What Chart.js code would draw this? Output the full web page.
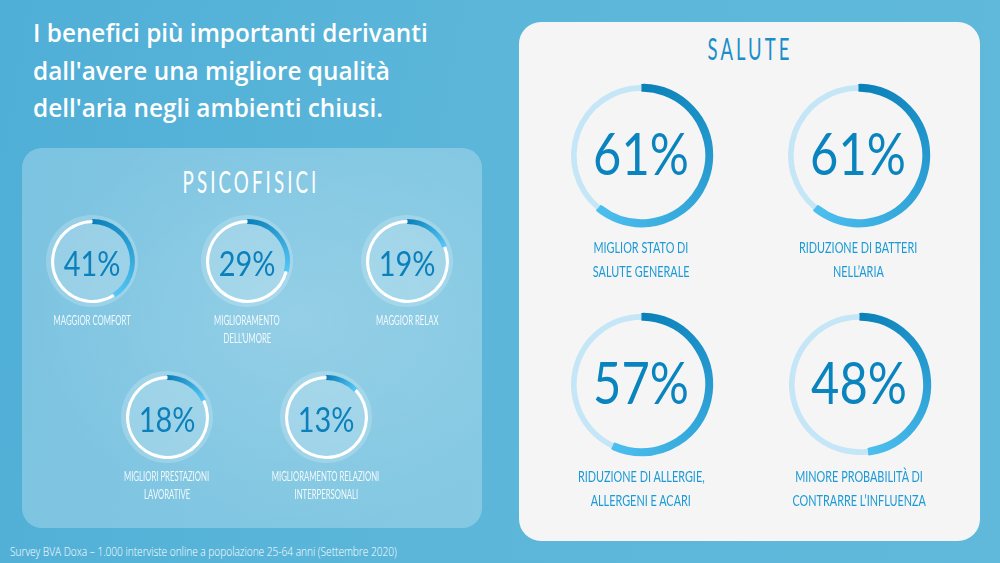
<!DOCTYPE html>
<html><head><meta charset="utf-8">
<script src="https://cdn.jsdelivr.net/npm/chart.js@4.4.1/dist/chart.umd.min.js"></script>
<style>
html,body{margin:0;padding:0;}
body{width:1000px;height:563px;overflow:hidden;position:relative;
  background:linear-gradient(100deg,#50afd7 0%,#5bb6d9 45%,#60b9db 100%);
  font-family:"Lato","Open Sans",sans-serif;}
.abs{position:absolute;}
#title{left:33px;top:14px;color:#fff;font-family:"Open Sans",sans-serif;font-weight:600;font-size:25.5px;line-height:37.5px;white-space:nowrap;transform-origin:left top;}
#title span{display:inline-block;}
#leftPanel{left:22px;top:148px;width:460px;height:380px;border-radius:20px;
  background:radial-gradient(ellipse at 60% 45%,rgba(255,255,255,0.36),rgba(255,255,255,0.25) 70%);}
#rightPanel{left:519px;top:22px;width:461px;height:519px;border-radius:22px;background:#f5f5f5;}
.hwrap{width:0;height:0;}
.heading{position:absolute;left:0;top:0;white-space:nowrap;font-weight:400;font-size:30px;line-height:30px;letter-spacing:5px;}
.halo{border-radius:50%;background:rgba(255,255,255,0.2);}
.nwrap{width:0;height:0;}
.num{position:absolute;left:0;top:0;white-space:nowrap;line-height:1;font-weight:400;}
.lbl{white-space:nowrap;text-align:center;width:260px;}
.lbl span{display:inline-block;transform-origin:center;}
#footer{left:10px;top:544px;color:#fff;font-family:"Open Sans",sans-serif;font-weight:300;font-size:12px;line-height:16px;white-space:nowrap;transform-origin:left top;}
</style></head>
<body>
<div id="leftPanel" class="abs"></div>
<div id="rightPanel" class="abs"></div>
<div id="title" class="abs"><div><span id="t1">I benefici più importanti derivanti</span></div><div><span>dall'avere una migliore qualità</span></div><div><span>dell'aria negli ambienti chiusi.</span></div></div>
<div id="footer" class="abs">Survey BVA Doxa – 1.000 interviste online a popolazione 25-64 anni (Settembre 2020)</div>
<script>
// ---- data ----
const sectionTitles = ["PSICOFISICI", "SALUTE"];
const psicoLabels = [["MAGGIOR COMFORT"], ["MIGLIORAMENTO", "DELL’UMORE"], ["MAGGIOR RELAX"], ["MIGLIORI PRESTAZIONI", "LAVORATIVE"], ["MIGLIORAMENTO RELAZIONI", "INTERPERSONALI"]];
const psicoValues = [41, 29, 19, 18, 13];
const saluteLabels = [["MIGLIOR STATO DI", "SALUTE GENERALE"], ["RIDUZIONE DI BATTERI", "NELL’ARIA"], ["RIDUZIONE DI ALLERGIE,", "ALLERGENI E ACARI"], ["MINORE PROBABILITÀ DI", "CONTRARRE L’INFLUENZA"]];
const saluteValues = [61, 61, 57, 48];

// ---- layout (not data) ----
const psicoCenters = [[92,261],[247,261],[407,261],[167,417],[326,417]];
const saluteCenters = [[641,155],[858,155],[641,384],[859,384]];
const smallStyle = {radius:41.5, cutout:'92.5%', extra:1.8, from:'#0a7fb8', to:'#56c7f5', track:'#ffffff',
  numSize:35, numW:57, numColor:'#0b80bb', numDy:1, lblSize:12.5, lblColor:'rgba(255,255,255,0.9)', lblDy:60, lblGap:18.5, refW:77, halo:46, borderRadius:0};
const bigStyle = {radius:70.5, cutout:'92%', extra:2.4, from:'#0a80b9', to:'#4dbfef', track:'#c4e6f6',
  numSize:58, numW:96, numColor:'#0a84bf', numDy:-2, lblSize:16, lblColor:'#1b9ad5', lblDy:92, lblGap:24.5, refW:127, halo:0, borderRadius:2};

function arcGrad(c, value, from, to) {
  const chart = c.chart, ca = chart.chartArea;
  if (!ca || !chart.ctx.createConicGradient) return from;
  const g = chart.ctx.createConicGradient(-Math.PI/2, (ca.left+ca.right)/2, (ca.top+ca.bottom)/2);
  g.addColorStop(0, from); g.addColorStop(value/100, to); g.addColorStop(1, to);
  return g;
}

function el(cls, parent, tag) { const d = document.createElement(tag||'div'); d.className = cls; (parent||document.body).appendChild(d); return d; }

const labelSpans = {small:[], big:[]};
const refSpans = {};

function makeRing(cx, cy, value, lines, s, key) {
  if (s.halo) {
    const h = el('abs halo');
    h.style.left = (cx - s.halo)+'px'; h.style.top = (cy - s.halo)+'px';
    h.style.width = h.style.height = (2*s.halo)+'px';
  }
  const size = Math.ceil(s.radius*2 + 12);
  const wrap = el('abs');
  wrap.style.left = (cx - size/2)+'px'; wrap.style.top = (cy - size/2)+'px';
  wrap.style.width = wrap.style.height = size+'px';
  const canvas = document.createElement('canvas');
  canvas.width = size; canvas.height = size;
  wrap.appendChild(canvas);
  new Chart(canvas, {
    type:'doughnut',
    data:{labels:['valore','resto'], datasets:[{
      data:[value, 100-value],
      backgroundColor: c => c.dataIndex === 0 ? arcGrad(c, value, s.from, s.to) : s.track,
      borderColor: c => c.dataIndex === 0 ? arcGrad(c, value, s.from, s.to) : s.track,
      borderWidth: [s.extra, 0],
      borderRadius: [s.borderRadius, 0]
    }]},
    options:{responsive:false, animation:false, events:[], radius:s.radius, cutout:s.cutout,
      layout:{padding:0}, plugins:{legend:{display:false}, tooltip:{enabled:false}}}
  });
  const nw = el('abs nwrap');
  nw.style.left = cx+'px'; nw.style.top = (cy + s.numDy)+'px';
  const n = el('num', nw);
  n.textContent = value + '%';
  n.style.fontSize = s.numSize+'px'; n.style.color = s.numColor;
  const k = s.numW / n.offsetWidth;
  n.style.transform = 'translate(-50%,-50%) scaleX(' + k + ')';
  const l = el('abs lbl');
  l.style.left = (cx - 130)+'px'; l.style.top = (cy + s.lblDy - s.lblGap/2)+'px';
  l.style.fontSize = s.lblSize+'px'; l.style.lineHeight = s.lblGap+'px'; l.style.color = s.lblColor;
  lines.forEach(t => { const d = el('', l); const sp = el('', d, 'span'); sp.textContent = t; labelSpans[key].push(sp);
    if (t === 'MAGGIOR COMFORT' || t === 'RIDUZIONE DI ALLERGIE,') refSpans[key] = sp; });
}

// headings
[[sectionTitles[0], 251, 181, '#ffffff', 132], [sectionTitles[1], 750, 48, '#1a8ec9', 80]].forEach(([t,x,y,c,w]) => {
  const hw = el('abs hwrap'); hw.style.left = x+'px'; hw.style.top = y+'px';
  const h = el('heading', hw); h.textContent = t; h.style.color = c;
  const k = (w + 5) / h.offsetWidth;
  h.style.transform = 'translate(-50%,-50%) scaleX(' + k + ')';
});

psicoValues.forEach((v,i) => makeRing(psicoCenters[i][0], psicoCenters[i][1], v, psicoLabels[i], smallStyle, 'small'));
saluteValues.forEach((v,i) => makeRing(saluteCenters[i][0], saluteCenters[i][1], v, saluteLabels[i], bigStyle, 'big'));

['small','big'].forEach(key => {
  const s = key === 'small' ? smallStyle : bigStyle;
  const k = s.refW / refSpans[key].offsetWidth;
  labelSpans[key].forEach(sp => sp.style.transform = 'scaleX(' + k + ')');
});

// fit title & footer widths
const t1 = document.getElementById('t1');
document.getElementById('title').style.transform = 'scaleX(' + (395 / t1.offsetWidth) + ')';
const f = document.getElementById('footer');
f.style.display = 'inline-block';
f.style.transform = 'scaleX(' + (387 / f.offsetWidth) + ')';
</script>
</body></html>
